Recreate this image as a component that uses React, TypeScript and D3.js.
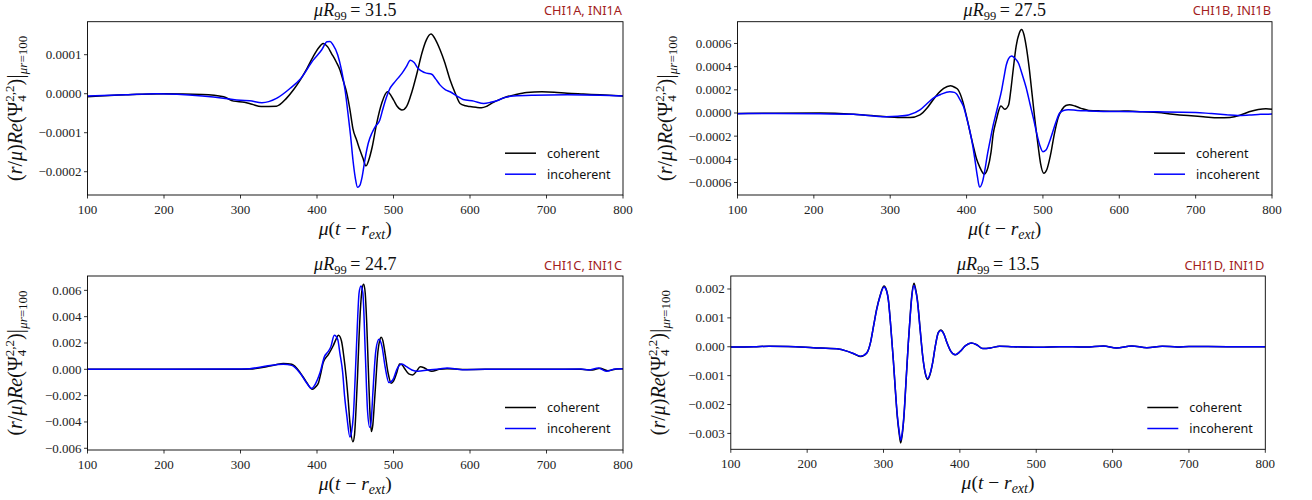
import React from 'react';
import * as d3 from 'd3';

// ---------- DATA ----------
const xTicks = [100, 200, 300, 400, 500, 600, 700, 800];
const seriesNames = ['coherent', 'incoherent'];
const r99Values = ['31.5', '27.5', '24.7', '13.5'];
const tags = ['CHI1A, INI1A', 'CHI1B, INI1B', 'CHI1C, INI1C', 'CHI1D, INI1D'];

// Panel A (values in units of 1e-4)
const tA_coh = [100,150,200,250,278,291,305,315,327,347,360,370,378,387,395,402,408,414,419,425,430,434,439,443,447,452,456,460,464,468,472,478,485,492,500,505,511,517,522,526,531,537,543,549,555,561,567,574,581,587,594,600,608,615,622,630,640,648,660,674,694,710,727,748,770,800];
const vA_coh = [-0.08,-0.03,0,-0.02,-0.08,-0.19,-0.22,-0.27,-0.33,-0.32,-0.12,0.12,0.35,0.65,0.95,1.17,1.29,1.2,1.03,0.82,0.61,0.35,0.01,-0.4,-0.9,-1.2,-1.44,-1.65,-1.85,-1.68,-1.38,-0.76,-0.22,0.05,-0.16,-0.33,-0.42,-0.33,-0.08,0.18,0.55,1.03,1.38,1.53,1.38,1.12,0.8,0.35,0,-0.25,-0.31,-0.33,-0.35,-0.36,-0.32,-0.23,-0.14,-0.08,-0.02,0.03,0.05,0.04,0.01,-0.01,-0.03,-0.06];
const tA_inc = [100,150,190,250,280,300,312,328,347,365,378,395,406,413,417,421,427,432,437,441,444,447,450,453,456,459,463,467,472,476,482,486,491,495,500,505,511,517,522,527,532,541,550,555,561,568,574,583,591,605,618,627,635,645,657,683,727,770,800];
const vA_inc = [-0.06,-0.03,0,-0.06,-0.12,-0.17,-0.18,-0.23,-0.12,0.14,0.37,0.86,1.12,1.33,1.34,1.25,1.0,0.61,0.05,-0.59,-1.1,-1.7,-2.15,-2.4,-2.35,-2.13,-1.65,-1.27,-1.0,-0.85,-0.68,-0.4,-0.08,0.12,0.26,0.38,0.52,0.7,0.86,0.8,0.65,0.54,0.5,0.38,0.22,0.1,0.05,-0.06,-0.15,-0.19,-0.25,-0.22,-0.18,-0.1,-0.06,-0.04,-0.03,-0.04,-0.06];
const yTicksA = [1, 0, -1, -2];
const yLabelsA = ['0.0001', '0.0000', '\u22120.0001', '\u22120.0002'];

// Panel B (values in units of 1e-4)
const tB_coh = [100,150,208,252,295,310,326,339,348,356,363,370,379,385,389,395,400,404,409,413,417,423,428,432,435,439,442,445,450,455,458,461,465,469,472,475,478,482,486,490,494,497,501,505,510,515,520,525,530,535,542,550,560,575,600,612,630,650,670,690,710,730,745,758,770,782,792,800];
const vB_coh = [-0.05,-0.02,0,-0.1,-0.32,-0.38,-0.4,-0.17,0.4,1.12,1.7,2.13,2.36,2.2,1.99,1.0,-0.32,-1.5,-2.91,-3.95,-4.63,-5.27,-4.7,-3.4,-1.76,-0.6,0.2,0.6,0.32,0.69,2.0,3.71,5.8,6.88,7.2,6.8,5.8,3.9,1.5,-0.9,-3.0,-4.4,-5.2,-4.9,-3.6,-1.8,-0.4,0.3,0.65,0.72,0.6,0.4,0.22,0.18,0.16,0.17,0.1,0.05,-0.1,-0.22,-0.32,-0.42,-0.38,-0.2,0.1,0.3,0.37,0.33];
const tB_inc = [100,150,208,252,295,310,324,339,348,356,366,378,384,387,391,396,400,404,408,411,414,417,421,424,427,431,434,437,441,446,449,452,455,459,463,468,473,478,483,488,492,496,500,504,508,513,518,522,527,533,545,560,600,650,700,720,740,755,770,785,800];
const vB_inc = [-0.06,-0.04,-0.06,-0.12,-0.32,-0.28,-0.17,0.26,0.8,1.27,1.6,1.84,1.78,1.64,1.2,0.55,-0.4,-1.47,-2.8,-4.06,-5.4,-6.4,-5.9,-4.92,-3.7,-2.33,-1.3,-0.46,0.6,1.99,3.1,4.14,4.7,4.92,4.75,4.29,3.3,2.2,0.8,-0.6,-1.8,-2.8,-3.34,-3.2,-2.6,-1.6,-0.6,0,0.22,0.28,0.22,0.18,0.12,0.1,0.05,-0.05,-0.15,-0.22,-0.18,-0.12,-0.08];
const yTicksB = [6, 4, 2, 0, -2, -4, -6];
const yLabelsB = ['0.0006', '0.0004', '0.0002', '0.0000', '\u22120.0002', '\u22120.0004', '\u22120.0006'];

// Panel C (values in units of 1e-3)
const tC_coh = [100,200,290,312,334,346,356,367,378,386,394,398,402,405,408,415,421,425,428,432,435,438,441,443,447,449,451,453,455,457,459,461,463,465,467,469,471,473,475,477,479,482,484,486,489,493,497,500,504,508,511,514,520,525,530,535,540,545,550,560,570,590,620,700,745,760,770,780,792,800];
const vC_coh = [0,0,0,0.02,0.2,0.35,0.45,0.38,-0.25,-0.95,-1.52,-1.35,-1.02,-0.3,0.5,1.14,1.77,2.3,2.58,2.15,1.0,-0.51,-2.5,-4.05,-5.5,-5.0,-3.04,-0.5,2.5,4.8,6.1,6.46,5.8,3.5,0.2,-3.0,-4.73,-4.2,-2.58,-0.8,0.96,2.2,2.43,2.2,1.2,-0.3,-1.06,-0.9,-0.3,0.41,0.35,0.1,-0.35,-0.43,-0.15,0.2,0.12,-0.05,-0.15,0,0.05,-0.02,0,0,0,-0.05,0.08,-0.1,0.03,0.05];
const tC_inc = [100,200,290,312,334,356,367,378,386,393,398,404,410,414,418,422.6,427,430,433.6,436,439,443,445,447.5,450,452.7,455,457.5,460,463,466,469,471,473,477,481,485,489,494,499,505,511,517,524,532,545,560,570,590,620,700,745,755,768,778,790,800];
const vC_inc = [0,0,0.02,0.05,0.25,0.38,0.3,-0.3,-1.0,-1.45,-1.1,-0.25,1.0,1.3,1.7,2.58,2.28,1.2,-0.25,-2.0,-3.54,-5.14,-4.8,-3.54,-0.5,3.29,5.8,6.33,5.77,1.46,-3.09,-4.41,-3.8,-1.82,1.46,2.28,1.72,0.2,-1.01,-0.81,0.08,0.41,0.2,-0.05,-0.15,-0.05,0.02,0.1,-0.03,0,0,0.02,-0.05,0.1,-0.15,0.03,0.05];
const yTicksC = [6, 4, 2, 0, -2, -4, -6];
const yLabelsC = ['0.006', '0.004', '0.002', '0.000', '\u22120.002', '\u22120.004', '\u22120.006'];

// Panel D (values in units of 1e-3)
const tD_coh = [100,130,150,175,208,239,252,262,270,278,283,287,291,295.4,300.6,304,306.3,309.5,312.8,315.5,318,320.5,322.5,324.5,326.8,329.5,332.5,335,337,339.9,342,344.3,348,351.3,354.5,357.8,361,364.4,368,371.7,375,379,383,388,394,400,407,415,422,430,440,452,470,505,530,548,565,588,605,625,645,665,685,700,750,800];
const vD_coh = [-0.01,0,0.02,0.01,-0.03,-0.07,-0.15,-0.25,-0.34,-0.22,0.15,0.72,1.3,1.76,2.1,1.95,1.64,0.7,-0.44,-1.5,-2.4,-3.0,-3.33,-3.05,-2.4,-1.2,0.14,1.1,1.76,2.2,2.0,1.64,0.6,-0.32,-0.9,-1.13,-0.95,-0.55,0.05,0.49,0.58,0.45,0.15,-0.15,-0.28,-0.17,0.03,0.13,0.07,-0.06,-0.04,0.02,0,-0.02,0,0,-0.01,0.03,-0.04,0.03,-0.03,0.02,-0.01,0.01,0,0];
const tD_inc = [100,130,150,175,208,239,252,262,270,278,283,287,291,295.4,300.6,304,306.3,309.5,312.8,315.5,318,320.5,322.5,324.5,326.8,329.5,332.5,335,337,339.9,342,344.3,348,351.3,354.5,357.8,361,364.4,368,371.7,375,379,383,388,394,400,407,415,422,430,440,452,470,505,530,548,565,588,605,625,645,665,685,700,750,800];
const vD_inc = [-0.01,0,0.02,0.01,-0.03,-0.07,-0.15,-0.25,-0.33,-0.22,0.15,0.72,1.28,1.74,2.07,1.93,1.62,0.7,-0.44,-1.48,-2.36,-2.93,-3.24,-2.98,-2.36,-1.18,0.14,1.08,1.72,2.12,1.95,1.6,0.58,-0.32,-0.88,-1.1,-0.93,-0.54,0.05,0.48,0.56,0.44,0.15,-0.15,-0.28,-0.17,0.03,0.13,0.07,-0.06,-0.04,0.02,0,-0.02,0,0,-0.01,0.03,-0.04,0.03,-0.03,0.02,-0.01,0.01,0,0];

const yTicksD = [2, 1, 0, -1, -2, -3];
const yLabelsD = ['0.002', '0.001', '0.000', '\u22120.001', '\u22120.002', '\u22120.003'];

// ---------- STYLE / LAYOUT ----------
const SERIF = "'Liberation Serif', 'DejaVu Serif', serif";
const SANS = "'Noto Sans', 'Open Sans', sans-serif";
const COLORS = ['#000000', '#0000ff'];
const TAG_COLOR = '#a31d1d';

type Box = { left: number; right: number; top: number; bottom: number };

const panels = [
  { id: 'A', box: { left: 87.5, right: 623, top: 21.7, bottom: 195 }, yDomain: [-2.597, 1.846], yTicks: yTicksA, yLabels: yLabelsA, series: [[tA_coh, vA_coh], [tA_inc, vA_inc]], r99: r99Values[0], tag: tags[0] },
  { id: 'B', box: { left: 737.5, right: 1272, top: 21.7, bottom: 195 }, yDomain: [-7.08, 7.88], yTicks: yTicksB, yLabels: yLabelsB, series: [[tB_coh, vB_coh], [tB_inc, vB_inc]], r99: r99Values[1], tag: tags[1] },
  { id: 'C', box: { left: 87.5, right: 623, top: 276, bottom: 450 }, yDomain: [-6.13, 7.09], yTicks: yTicksC, yLabels: yLabelsC, series: [[tC_coh, vC_coh], [tC_inc, vC_inc]], r99: r99Values[2], tag: tags[2] },
  { id: 'D', box: { left: 730.8, right: 1265.3, top: 276, bottom: 449.3 }, yDomain: [-3.55, 2.45], yTicks: yTicksD, yLabels: yLabelsD, series: [[tD_coh, vD_coh], [tD_inc, vD_inc]], r99: r99Values[3], tag: tags[3] },
];

function Panel({ p }: { p: any }) {
  const box: Box = p.box;
  const x = d3.scaleLinear().domain([100, 800]).range([box.left, box.right]);
  const y = d3.scaleLinear().domain(p.yDomain).range([box.bottom, box.top]);
  const line = d3
    .line<[number, number]>()
    .x((d) => x(d[0]))
    .y((d) => y(d[1]))
    .curve(d3.curveMonotoneX);
  const cx = (box.left + box.right) / 2;
  const cy = (box.top + box.bottom) / 2;
  const clipId = `clip-${p.id}`;
  const tickLen = 3.5;
  return (
    <g>
      <defs>
        <clipPath id={clipId}>
          <rect x={box.left} y={box.top} width={box.right - box.left} height={box.bottom - box.top} />
        </clipPath>
      </defs>
      <g clipPath={`url(#${clipId})`}>
        {p.series.map((s: any, i: number) => {
          const pts: [number, number][] = s[0].map((t: number, j: number) => [t, s[1][j]]);
          return <path key={i} d={line(pts) || ''} fill="none" stroke={COLORS[i]} strokeWidth={1.5} strokeLinejoin="round" />;
        })}
      </g>
      <rect x={box.left} y={box.top} width={box.right - box.left} height={box.bottom - box.top} fill="none" stroke="#000" strokeWidth={0.9} />
      {xTicks.map((t) => (
        <g key={t}>
          <line x1={x(t)} x2={x(t)} y1={box.bottom} y2={box.bottom + tickLen} stroke="#000" strokeWidth={0.8} />
          <text x={x(t)} y={box.bottom + 18.5} textAnchor="middle" fontFamily={SERIF} fontSize={13} fill="#222">{t}</text>
        </g>
      ))}
      {p.yTicks.map((v: number, i: number) => (
        <g key={v}>
          <line x1={box.left - tickLen} x2={box.left} y1={y(v)} y2={y(v)} stroke="#000" strokeWidth={0.8} />
          <text x={box.left - 6} y={y(v) + 4.5} textAnchor="end" fontFamily={SERIF} fontSize={13} fill="#222">{p.yLabels[i]}</text>
        </g>
      ))}
      {/* title */}
      <text x={cx} y={box.top - 6} textAnchor="middle" fontFamily={SERIF} fontSize={18} fill="#111">
        <tspan fontStyle="italic">μR</tspan>
        <tspan fontSize={12.5} dy={4}>99</tspan>
        <tspan dy={-4}>{'\u2009= 31.5'.replace('31.5', p.r99)}</tspan>
      </text>
      <text x={box.right - 1} y={box.top - 6.5} textAnchor="end" fontFamily={SANS} fontSize={12.8} fill={TAG_COLOR}>{p.tag}</text>
      {/* x label */}
      <text x={cx} y={box.bottom + 40} textAnchor="middle" fontFamily={SERIF} fontSize={19.5} fill="#111">
        <tspan fontStyle="italic">μ</tspan>
        <tspan>(</tspan>
        <tspan fontStyle="italic">t</tspan>
        <tspan>{' \u2212 '}</tspan>
        <tspan fontStyle="italic">r</tspan>
        <tspan fontStyle="italic" fontSize={14} dy={4}>ext</tspan>
        <tspan dy={-4}>)</tspan>
      </text>
      {/* y label */}
      <text transform={`translate(${box.left - 66},${cy}) rotate(-90)`} textAnchor="middle" fontFamily={SERIF} fontSize={20} fill="#111">
        <tspan>(</tspan>
        <tspan fontStyle="italic">r</tspan>
        <tspan>/</tspan>
        <tspan fontStyle="italic">μ</tspan>
        <tspan>)</tspan>
        <tspan fontStyle="italic">Re</tspan>
        <tspan>(Ψ</tspan>
        <tspan fontSize={13} dy={4.5}>4</tspan>
        <tspan fontSize={13} dx={-6.5} dy={-12.5}>2,2</tspan>
        <tspan dy={8}>)</tspan>
        <tspan fontSize={23} dy={1}>|</tspan>
        <tspan fontSize={13} dy={4} fontStyle="italic">μr</tspan>
        <tspan fontSize={13}>=100</tspan>
      </text>
      {/* legend */}
      {seriesNames.map((name, i) => {
        const ly = box.top + 131.5 + i * 21;
        return (
          <g key={name}>
            <line x1={box.right - 118} x2={box.right - 87} y1={ly} y2={ly} stroke={COLORS[i]} strokeWidth={1.5} />
            <text x={box.right - 76} y={ly + 4.5} fontFamily={SANS} fontSize={12.5} fill="#111">{name}</text>
          </g>
        );
      })}
    </g>
  );
}

export default function App() {
  return (
    <svg width={1312} height={500} style={{ position: 'absolute', left: 0, top: 0, background: '#fff' }}>
      <rect x={0} y={0} width={1312} height={500} fill="#fff" />
      {panels.map((p) => (
        <Panel key={p.id} p={p} />
      ))}
    </svg>
  );
}
